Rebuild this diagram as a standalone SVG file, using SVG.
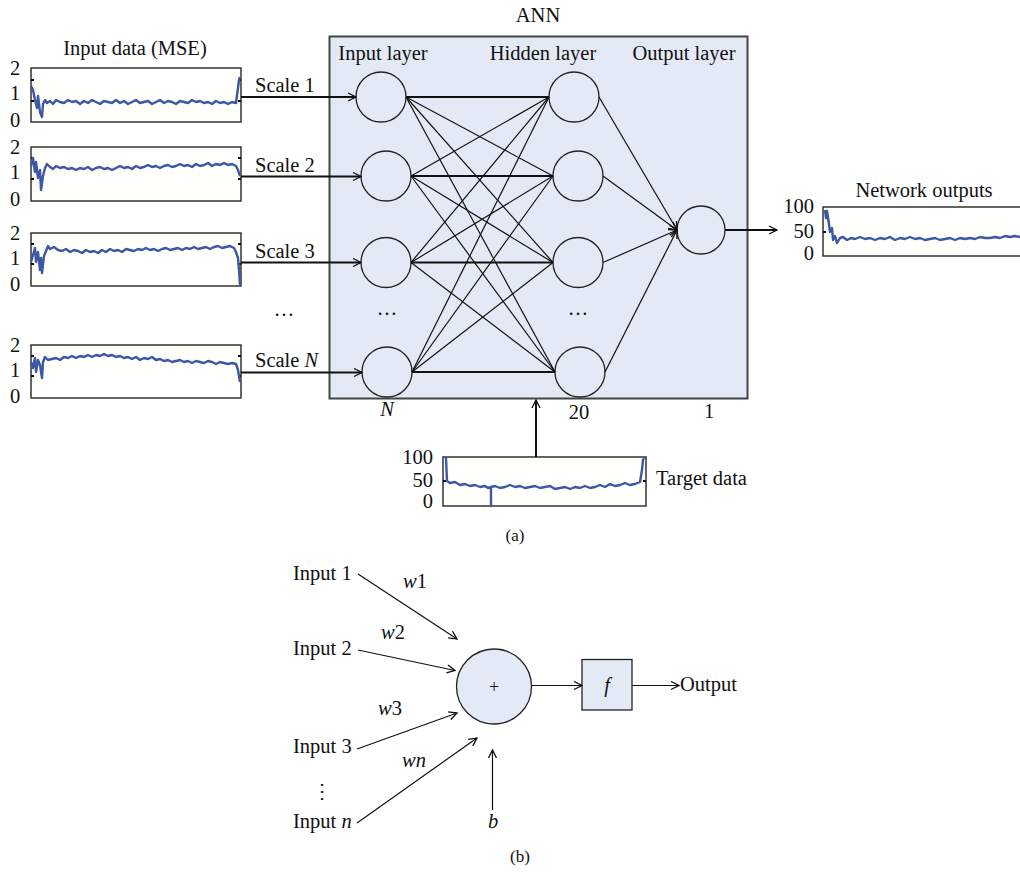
<svg xmlns="http://www.w3.org/2000/svg" width="1020" height="876" viewBox="0 0 1020 876">
<style>
text{font-family:"Liberation Serif","Times New Roman",serif;font-size:20.5px;fill:#111}
.it{font-style:italic}
.plot{fill:#fffffb;stroke:#333;stroke-width:1.5}
.data{fill:none;stroke:#3b57a6;stroke-width:2.4;stroke-linejoin:round}
.tick{stroke:#111;stroke-width:2}
.node{fill:#e4eaf5;stroke:#222;stroke-width:1.3}
.ln{stroke:#111;stroke-width:1.2;fill:none}
.lnb{stroke:#111;stroke-width:2;fill:none}
</style>
<defs>
<marker id="arr" viewBox="0 0 10 10" refX="9" refY="5" markerWidth="10" markerHeight="10" markerUnits="userSpaceOnUse" orient="auto">
<path d="M1,1 L9,5 L1,9" fill="none" stroke="#111" stroke-width="1.3"/>
</marker>
</defs>
<rect width="1020" height="876" fill="#fff"/>

<!-- ANN box -->
<g id="ann-box">
<rect x="329.5" y="36.5" width="418" height="362" fill="#e4eaf5" stroke="#444" stroke-width="2"/>
<text x="538" y="22" text-anchor="middle">ANN</text>
<text x="383" y="60" text-anchor="middle">Input layer</text>
<text x="543" y="60" text-anchor="middle">Hidden layer</text>
<text x="684" y="60" text-anchor="middle">Output layer</text>
<text x="387" y="315" text-anchor="middle">…</text>
<text x="578" y="315" text-anchor="middle">…</text>
<text x="387" y="416" text-anchor="middle" class="it">N</text>
<text x="579" y="419" text-anchor="middle">20</text>
<text x="709" y="418" text-anchor="middle">1</text>
</g>

<!-- input plots -->
<g id="input-plots">
<text x="135" y="55" text-anchor="middle">Input data (MSE)</text>
<rect class="plot" x="31" y="68" width="210" height="54"/>
<text x="15" y="75" text-anchor="middle">2</text><text x="15" y="100" text-anchor="middle">1</text><text x="15" y="127" text-anchor="middle">0</text>
<path class="tick" d="M31,80h3M31,101h3M241,80h-3M241,101h-3"/>
<polyline class="data" points="31,86 33,90 35,100 37,108 38,96 40,112 42,117 43,104 45,100 47,103 50,101 53,104 56,100 60,102 64,103 68,100 72,102 76,101 80,104 84,101 88,103 92,100 96,102 100,104 104,101 108,102 112,103 116,100 120,103 124,101 128,104 132,102 136,100 140,103 144,102 148,101 152,104 156,102 160,100 164,103 168,101 172,102 176,104 180,101 184,102 188,103 192,100 196,102 200,101 204,103 208,102 212,104 216,101 220,103 224,102 228,104 232,102 236,103 237,95 238,88 239,80 240,77"/>

<rect class="plot" x="31" y="147" width="210" height="54"/>
<text x="15" y="154" text-anchor="middle">2</text><text x="15" y="179" text-anchor="middle">1</text><text x="15" y="206" text-anchor="middle">0</text>
<path class="tick" d="M31,158h3M31,179h3M241,158h-3M241,179h-3"/>
<polyline class="data" points="31,166 33,158 35,172 36,162 38,178 40,170 41,190 43,176 45,168 47,164 50,167 53,169 56,166 60,168 64,167 68,169 72,168 76,170 80,168 84,169 88,167 92,170 96,168 100,167 104,169 108,168 112,170 116,168 120,166 124,168 128,167 132,169 136,166 140,168 144,167 148,165 152,167 156,166 160,168 164,166 168,165 172,167 176,166 180,164 184,166 188,165 192,167 196,164 200,166 204,165 208,163 212,166 216,164 220,165 224,163 228,165 232,164 236,166 238,170 240,176"/>

<rect class="plot" x="31" y="233" width="210" height="53"/>
<text x="15" y="240" text-anchor="middle">2</text><text x="15" y="265" text-anchor="middle">1</text><text x="15" y="291" text-anchor="middle">0</text>
<path class="tick" d="M31,244h3M31,264h3M241,244h-3M241,264h-3"/>
<polyline class="data" points="31,262 33,255 35,248 36,262 38,252 40,270 41,258 42,273 44,256 46,251 48,246 50,249 54,247 58,250 62,251 66,249 70,252 74,250 78,251 82,253 86,250 90,252 94,251 98,253 102,250 106,252 110,249 114,251 118,250 122,252 126,249 130,250 134,251 138,249 142,250 146,248 150,250 154,249 158,251 162,249 166,248 170,250 174,249 178,248 182,250 186,248 190,249 194,247 198,249 202,248 206,247 210,249 214,247 218,246 222,248 226,247 230,246 234,248 236,252 238,258 239,270 240,285"/>

<text x="284" y="316" text-anchor="middle">…</text>

<rect class="plot" x="31" y="345" width="210" height="53"/>
<text x="15" y="352" text-anchor="middle">2</text><text x="15" y="377" text-anchor="middle">1</text><text x="15" y="403" text-anchor="middle">0</text>
<path class="tick" d="M31,356h3M31,376h3M241,356h-3M241,376h-3"/>
<polyline class="data" points="31,362 33,368 35,358 36,372 38,360 40,365 42,378 43,362 45,357 48,360 52,359 56,358 60,360 64,357 68,358 72,356 76,358 80,356 84,357 88,355 92,357 96,355 100,356 104,354 108,356 112,355 116,357 120,356 124,358 128,357 132,359 136,357 140,360 144,358 148,359 152,357 156,360 160,359 164,361 168,360 172,362 176,361 180,360 184,362 188,361 192,363 196,361 200,362 204,363 208,361 212,362 216,364 220,362 224,363 228,364 232,363 236,364 238,370 240,382"/>

<text x="255" y="92">Scale 1</text>
<text x="255" y="172">Scale 2</text>
<text x="255" y="258">Scale 3</text>
<text x="255" y="367">Scale <tspan class="it">N</tspan></text>
</g>

<!-- network outputs -->
<g id="network-outputs">
<text x="924" y="197" text-anchor="middle">Network outputs</text>
<rect class="plot" x="823" y="207" width="210" height="49"/>
<text x="814" y="213" text-anchor="end">100</text>
<text x="814" y="238" text-anchor="end">50</text>
<text x="814" y="260" text-anchor="end">0</text>
<path class="tick" d="M823,232h3"/>
<polyline class="data" points="825,210 826,218 827,211 829,224 830,232 832,228 833,240 835,236 837,243 840,238 843,237 847,240 851,238 855,239 860,237 865,239 870,238 875,240 880,238 885,239 890,237 895,240 900,238 905,239 910,237 915,239 920,238 925,240 930,239 935,238 940,240 945,239 950,238 955,240 960,238 965,239 970,238 975,239 980,237 985,238 990,238 995,237 1000,238 1005,236 1010,237 1015,236 1020,237"/>
</g>

<!-- target data -->
<g id="target-data">
<rect class="plot" x="443" y="457" width="203" height="49"/>
<text x="433" y="464" text-anchor="end">100</text>
<text x="433" y="487" text-anchor="end">50</text>
<text x="433" y="508" text-anchor="end">0</text>
<path class="tick" d="M443,481h3M646,481h-3"/>
<polyline class="data" points="445,457 446,458 447,481 450,483 455,482 460,485 465,484 470,486 475,485 480,487 485,486 488,488 491,487 491,506 491,487 495,486 500,488 505,487 510,485 515,487 520,486 525,488 530,487 535,486 540,488 545,487 550,486 555,489 560,488 565,487 570,489 575,487 580,488 585,486 590,488 595,487 600,485 605,487 610,484 615,486 620,485 625,483 630,485 635,484 640,482 642,470 643,460 644,458"/>
<text x="656" y="485">Target data</text>
</g>

<!-- neurons (a) -->
<g id="in1"><circle class="node" cx="381" cy="97" r="25"/></g>
<g id="in2"><circle class="node" cx="386" cy="176" r="25"/></g>
<g id="in3"><circle class="node" cx="386" cy="262.5" r="25"/></g>
<g id="inN"><circle class="node" cx="387" cy="372" r="25"/></g>
<g id="h1"><circle class="node" cx="574" cy="97" r="25"/></g>
<g id="h2"><circle class="node" cx="578" cy="176" r="25"/></g>
<g id="h3"><circle class="node" cx="578" cy="262.5" r="25"/></g>
<g id="h4"><circle class="node" cx="580" cy="372" r="25"/></g>
<g id="out"><circle class="node" cx="701" cy="230" r="24"/></g>

<!-- connectors (a) -->
<g id="connectors-a">
<line class="lnb" x1="241" y1="97" x2="356" y2="97" marker-end="url(#arr)"/>
<line class="lnb" x1="241" y1="176.5" x2="361" y2="176.5" marker-end="url(#arr)"/>
<line class="lnb" x1="241" y1="262.5" x2="361" y2="262.5" marker-end="url(#arr)"/>
<line class="lnb" x1="241" y1="372.5" x2="362" y2="372.5" marker-end="url(#arr)"/>

<line class="lnb" x1="406" y1="97" x2="549" y2="97"/>
<line class="ln" x1="406" y1="97" x2="553" y2="176"/>
<line class="ln" x1="406" y1="97" x2="553" y2="262.5"/>
<line class="ln" x1="406" y1="97" x2="555" y2="372"/>

<line class="ln" x1="411" y1="176" x2="549" y2="97"/>
<line class="lnb" x1="411" y1="176" x2="553" y2="176"/>
<line class="ln" x1="411" y1="176" x2="553" y2="262.5"/>
<line class="ln" x1="411" y1="176" x2="555" y2="372"/>

<line class="ln" x1="411" y1="262.5" x2="549" y2="97"/>
<line class="ln" x1="411" y1="262.5" x2="553" y2="176"/>
<line class="lnb" x1="411" y1="262.5" x2="553" y2="262.5"/>
<line class="ln" x1="411" y1="262.5" x2="555" y2="372"/>

<line class="ln" x1="412" y1="372" x2="549" y2="97"/>
<line class="ln" x1="412" y1="372" x2="553" y2="176"/>
<line class="ln" x1="412" y1="372" x2="553" y2="262.5"/>
<line class="lnb" x1="412" y1="372" x2="555" y2="372"/>

<line class="ln" x1="599" y1="97" x2="677" y2="230" marker-end="url(#arr)"/>
<line class="ln" x1="603" y1="176" x2="677" y2="230" marker-end="url(#arr)"/>
<line class="ln" x1="603" y1="262.5" x2="677" y2="230" marker-end="url(#arr)"/>
<line class="ln" x1="605" y1="372" x2="677" y2="230" marker-end="url(#arr)"/>

<line class="lnb" x1="725" y1="230" x2="777" y2="230" marker-end="url(#arr)"/>
<line class="lnb" x1="536" y1="457" x2="536" y2="400" marker-end="url(#arr)"/>
</g>

<text x="515" y="541" text-anchor="middle" style="font-size:17px">(a)</text>

<!-- part (b) -->
<g id="inputs-b">
<text x="293" y="580">Input 1</text>
<text x="293" y="655">Input 2</text>
<text x="293" y="753">Input 3</text>
<text x="322" y="798" text-anchor="middle" style="font-family:'DejaVu Serif',serif;font-size:20px">⋮</text>
<text x="293" y="828">Input <tspan class="it">n</tspan></text>
<text x="415" y="588" text-anchor="middle"><tspan class="it">w</tspan>1</text>
<text x="393" y="639" text-anchor="middle"><tspan class="it">w</tspan>2</text>
<text x="390" y="715" text-anchor="middle"><tspan class="it">w</tspan>3</text>
<text x="414" y="767" text-anchor="middle" class="it">wn</text>
<text x="493" y="828" text-anchor="middle" class="it">b</text>
</g>
<g id="sum"><circle class="node" cx="494" cy="686.5" r="37.5"/><text x="494" y="693" text-anchor="middle" style="font-size:18px">+</text></g>
<g id="f"><rect class="node" x="582" y="659.5" width="50" height="50.5"/><text x="607" y="692" text-anchor="middle" class="it">f</text></g>
<g id="output-b"><text x="680" y="691">Output</text></g>

<g id="connectors-b">
<line class="ln" x1="358" y1="574" x2="457" y2="639" marker-end="url(#arr)"/>
<line class="ln" x1="358" y1="650" x2="455" y2="670.5" marker-end="url(#arr)"/>
<line class="ln" x1="357" y1="749" x2="457" y2="713" marker-end="url(#arr)"/>
<line class="ln" x1="357" y1="823" x2="477" y2="738" marker-end="url(#arr)"/>
<line class="ln" x1="492.5" y1="810" x2="492.5" y2="750" marker-end="url(#arr)"/>
<line class="ln" x1="532" y1="685.5" x2="582" y2="685.5" marker-end="url(#arr)"/>
<line class="ln" x1="632" y1="685.5" x2="679" y2="685.5" marker-end="url(#arr)"/>
</g>

<text x="520" y="862" text-anchor="middle" style="font-size:17px">(b)</text>
</svg>
